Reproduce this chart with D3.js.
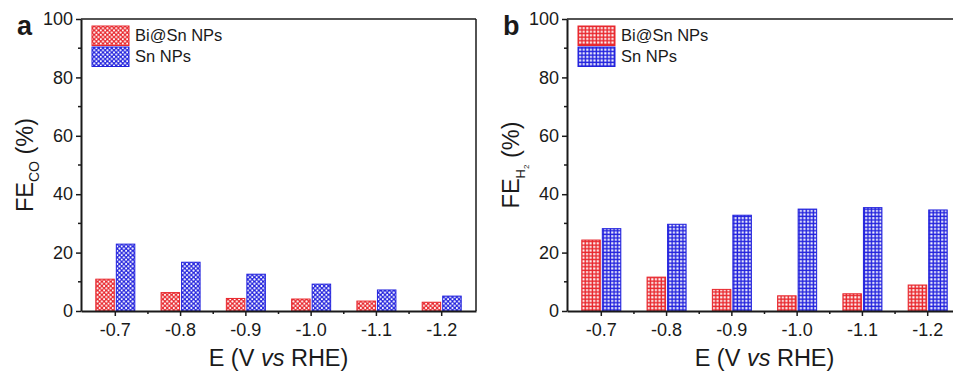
<!DOCTYPE html>
<html>
<head>
<meta charset="utf-8">
<script src="https://cdn.jsdelivr.net/npm/d3@7"></script>
<style>
    body { margin: 0; background: #fff; }
    svg text { font-family: "Liberation Sans", Arial, sans-serif; fill: #1a1a1a; }
    .tick text { font-size: 18px; }
    .domain, .tick line { stroke: #1a1a1a; }
</style>
</head>
<body>
<svg id="chart" width="953" height="375"></svg>
<script>
/*** DATA ***/
let potentials = ["-0.7", "-0.8", "-0.9", "-1.0", "-1.1", "-1.2"];
let series_names = ["Bi@Sn NPs", "Sn NPs"];
let fe_co_bisn = [10.9, 6.3, 4.3, 4.1, 3.4, 3.0];
let fe_co_sn = [22.9, 16.7, 12.6, 9.2, 7.2, 5.1];
let fe_h2_bisn = [24.3, 11.6, 7.4, 5.2, 5.9, 8.9];
let fe_h2_sn = [28.2, 29.7, 32.8, 34.9, 35.4, 34.6];
let y_ticks = [0, 20, 40, 60, 80, 100];
let y_minor = [10, 30, 50, 70, 90];

let colors = {"Bi@Sn NPs": "#e8262c", "Sn NPs": "#2222dd"};

let svg = d3.select("#chart");
let margin = {top: 19, bottom: 64},
    height = 375 - margin.top - margin.bottom,
    plot_w = 395;

let y = d3.scaleLinear().domain([0, 100]).range([margin.top + height, margin.top]);

/*** PATTERNS ***/
let defs = svg.append("defs");

function dot_pattern(id, color) {
    let p = defs.append("pattern")
        .attr("id", id)
        .attr("patternUnits", "userSpaceOnUse")
        .attr("width", 4.4).attr("height", 4.4);
    p.append("rect").attr("width", 4.4).attr("height", 4.4).attr("fill", color);
    [[0, 0], [4.4, 0], [0, 4.4], [4.4, 4.4], [2.2, 2.2]].forEach((c) => {
        p.append("circle").attr("cx", c[0]).attr("cy", c[1]).attr("r", 1.05).attr("fill", "#fff");
    });
}

function grid_pattern(id, color) {
    let p = defs.append("pattern")
        .attr("id", id)
        .attr("patternUnits", "userSpaceOnUse")
        .attr("width", 3.6).attr("height", 3.6);
    p.append("rect").attr("width", 3.6).attr("height", 3.6).attr("fill", color);
    p.append("rect").attr("x", 1.1).attr("y", 1.1).attr("width", 2.1).attr("height", 2.1).attr("fill", "#fff");
}

dot_pattern("dot-red", colors["Bi@Sn NPs"]);
dot_pattern("dot-blue", colors["Sn NPs"]);
grid_pattern("grid-red", colors["Bi@Sn NPs"]);
grid_pattern("grid-blue", colors["Sn NPs"]);

/*** PANEL ***/
function render_panel(opt) {
    let left = opt.left, right = left + plot_w;

    let x = d3.scaleBand().domain(potentials).range([left, right])
        .paddingInner(0.387).paddingOuter(0.219);
    let xs = d3.scaleBand().domain(series_names).range([0, x.bandwidth()]).paddingInner(0.05);

    let g = svg.append("g");

    // bars
    let rows = potentials.map((p, i) => ({p: p, vals: [opt.a[i], opt.b[i]]}));
    g.selectAll("g.grp")
        .data(rows).enter()
        .append("g")
        .attr("transform", (d) => `translate(${x(d.p)},0)`)
        .selectAll("rect")
        .data((d) => d.vals.map((v, k) => ({s: series_names[k], v: v}))).enter()
        .append("rect")
        .attr("x", (d) => xs(d.s) + 0.5)
        .attr("width", xs.bandwidth() - 1)
        .attr("y", (d) => y(d.v))
        .attr("height", (d) => y(0) - y(d.v))
        .attr("fill", (d) => `url(#${opt.pat}-${d.s === "Sn NPs" ? "blue" : "red"})`)
        .attr("stroke", (d) => colors[d.s])
        .attr("stroke-width", 1);

    // frame
    g.append("line").attr("x1", left).attr("x2", right).attr("y1", margin.top).attr("y2", margin.top)
        .attr("stroke", "#1a1a1a").attr("stroke-width", 1.5);
    g.append("line").attr("x1", right).attr("x2", right).attr("y1", margin.top).attr("y2", y(0))
        .attr("stroke", "#1a1a1a").attr("stroke-width", 1.5);

    // axes
    let xa = g.append("g")
        .attr("transform", `translate(0,${y(0)})`)
        .call(d3.axisBottom(x).tickSize(5).tickPadding(7).tickSizeOuter(0));
    xa.select(".domain").attr("stroke-width", 2);
    xa.selectAll(".tick line").attr("stroke-width", 1.5);

    let minor_x = potentials.slice(0, -1).map((p) => x(p) + x.bandwidth() / 2 + x.step() / 2);
    g.selectAll("line.xminor")
        .data(minor_x).enter()
        .append("line")
        .attr("x1", (d) => d).attr("x2", (d) => d)
        .attr("y1", y(0)).attr("y2", y(0) + 3)
        .attr("stroke", "#1a1a1a").attr("stroke-width", 1.5);

    let ya = g.append("g")
        .attr("transform", `translate(${left},0)`)
        .call(d3.axisLeft(y).tickValues(y_ticks).tickSize(5).tickPadding(3).tickSizeOuter(0));
    ya.select(".domain").attr("stroke-width", 2);
    ya.selectAll(".tick line").attr("stroke-width", 1.5);

    g.selectAll("line.yminor")
        .data(y_minor).enter()
        .append("line")
        .attr("x1", left - 3).attr("x2", left)
        .attr("y1", (d) => y(d)).attr("y2", (d) => y(d))
        .attr("stroke", "#1a1a1a").attr("stroke-width", 1.5);

    // panel letter
    g.append("text")
        .attr("x", left - 64).attr("y", 35)
        .attr("font-size", "27px").attr("font-weight", "bold")
        .text(opt.letter);

    // axis titles
    let xt = g.append("text")
        .attr("x", (left + right) / 2).attr("y", 366)
        .attr("text-anchor", "middle")
        .attr("font-size", "23.5px");
    xt.append("tspan").text("E (V ");
    xt.append("tspan").attr("font-style", "italic").text("vs");
    xt.append("tspan").text(" RHE)");

    let yt = g.append("text")
        .attr("transform", `translate(${left - 48},${(margin.top + y(0)) / 2}) rotate(-90)`)
        .attr("text-anchor", "middle")
        .attr("font-size", "23.5px");
    yt.append("tspan").text("FE");
    opt.sub(yt);
    yt.append("tspan").attr("dy", opt.back).attr("font-size", "23.5px").text(" (%)");

    // legend
    let lg = g.append("g").attr("transform", `translate(${left + 11},26)`);
    series_names.forEach((s, k) => {
        lg.append("rect")
            .attr("x", 0).attr("y", k * 21)
            .attr("width", 37).attr("height", 19.5)
            .attr("fill", `url(#${opt.pat}-${s === "Sn NPs" ? "blue" : "red"})`)
            .attr("stroke", colors[s]).attr("stroke-width", 1);
        lg.append("text")
            .attr("x", 43).attr("y", k * 21 + 15)
            .attr("font-size", "16.5px")
            .text(s);
    });
}

render_panel({
    left: 81, letter: "a", a: fe_co_bisn, b: fe_co_sn, pat: "dot", back: -6,
    sub: (t) => t.append("tspan").attr("dy", 6).attr("font-size", "14px").text("CO")
});

render_panel({
    left: 567, letter: "b", a: fe_h2_bisn, b: fe_h2_sn, pat: "grid", back: -10,
    sub: (t) => {
        t.append("tspan").attr("dy", 6).attr("font-size", "13px").text("H");
        t.append("tspan").attr("dy", 4).attr("font-size", "8px").text("2");
    }
});
</script>
</body>
</html>
